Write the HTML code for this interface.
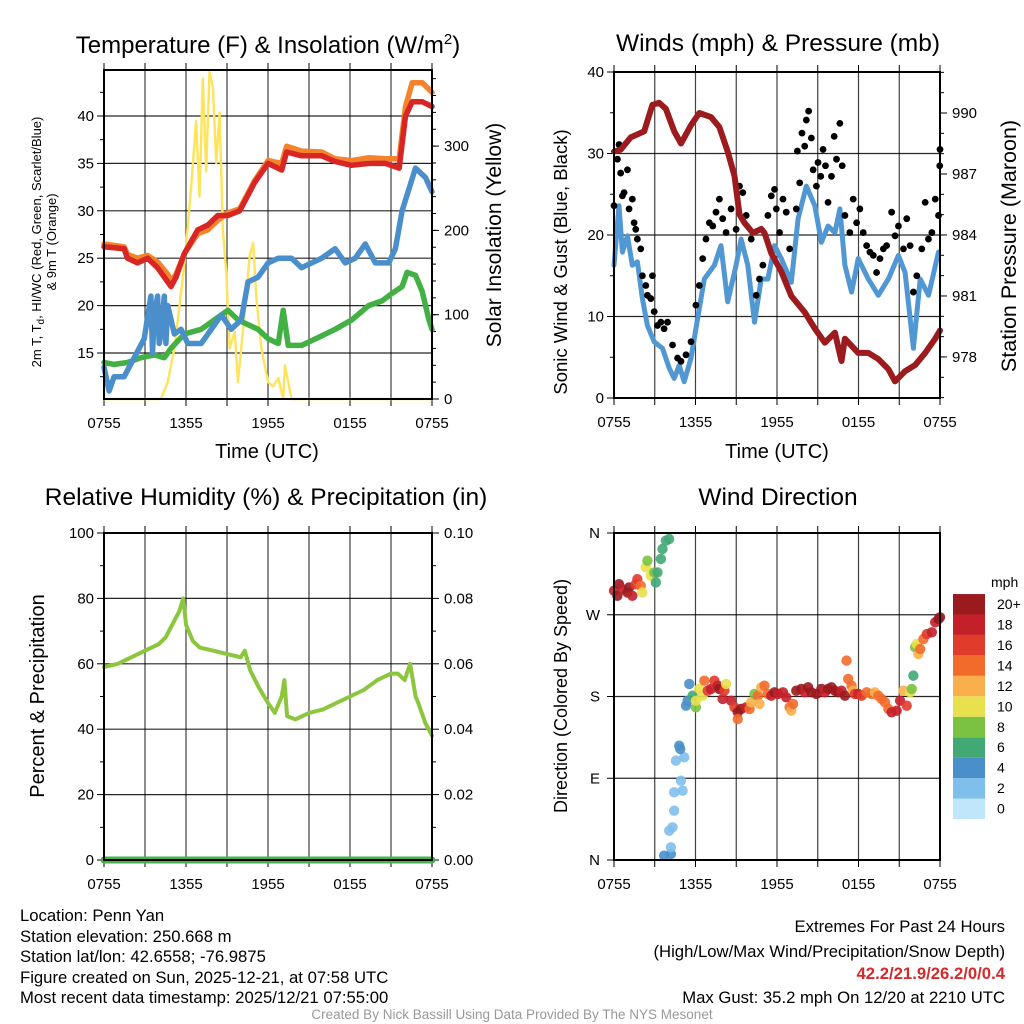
<!DOCTYPE html>
<html><head><meta charset="utf-8"><style>
html,body{margin:0;padding:0;background:#fff;}
svg{display:block;font-family:"Liberation Sans",Arial,sans-serif;}
</style></head><body>
<svg id="chart" width="1024" height="1024" viewBox="0 0 1024 1024" xmlns="http://www.w3.org/2000/svg">
<rect width="1024" height="1024" fill="#fff"/>
<g id="layer"></g>
<text x="268" y="53" font-size="24" text-anchor="middle">Temperature (F) &amp; Insolation (W/m<tspan dy="-9" font-size="15">2</tspan><tspan dy="9">)</tspan></text>
<text x="778" y="51" font-size="24.5" text-anchor="middle">Winds (mph) &amp; Pressure (mb)</text>
<text x="266" y="505" font-size="24.5" text-anchor="middle">Relative Humidity (%) &amp; Precipitation (in)</text>
<text x="778" y="505" font-size="24.5" text-anchor="middle">Wind Direction</text>
<text x="267" y="458" font-size="20" text-anchor="middle">Time (UTC)</text>
<text x="777" y="458" font-size="20" text-anchor="middle">Time (UTC)</text>
<text transform="translate(41,242) rotate(-90)" font-size="13" text-anchor="middle">2m T, T<tspan dy="3" font-size="10">d</tspan><tspan dy="-3">, HI/WC (Red, Green, Scarlet/Blue)</tspan></text>
<text transform="translate(56,242) rotate(-90)" font-size="13" text-anchor="middle">&amp; 9m T (Orange)</text>
<text transform="translate(501,235) rotate(-90)" font-size="21" text-anchor="middle">Solar Insolation (Yellow)</text>
<text transform="translate(567,262) rotate(-90)" font-size="18.5" text-anchor="middle">Sonic Wind &amp; Gust (Blue, Black)</text>
<text transform="translate(1016,246) rotate(-90)" font-size="21.5" text-anchor="middle">Station Pressure (Maroon)</text>
<text transform="translate(44,696) rotate(-90)" font-size="20" text-anchor="middle">Percent &amp; Precipitation</text>
<text transform="translate(567,696) rotate(-90)" font-size="18" text-anchor="middle">Direction (Colored By Speed)</text>
<text x="991" y="587" font-size="14">mph</text>
<g font-size="16.7">
<text x="20" y="921">Location: Penn Yan</text>
<text x="20" y="942">Station elevation: 250.668 m</text>
<text x="20" y="962">Station lat/lon: 42.6558; -76.9875</text>
<text x="20" y="983">Figure created on Sun, 2025-12-21, at 07:58 UTC</text>
<text x="20" y="1003">Most recent data timestamp: 2025/12/21 07:55:00</text>
</g>
<g font-size="16.7" text-anchor="end">
<text x="1005" y="932">Extremes For Past 24 Hours</text>
<text x="1005" y="957">(High/Low/Max Wind/Precipitation/Snow Depth)</text>
<text x="1005" y="979" fill="#d42a2a" font-weight="bold">42.2/21.9/26.2/0/0.4</text>
<text x="1005" y="1003">Max Gust: 35.2 mph On 12/20 at 2210 UTC</text>
</g>
<text x="512" y="1019" font-size="13.5" fill="#999" text-anchor="middle">Created By Nick Bassill Using Data Provided By The NYS Mesonet</text>
</svg>
<script>
// ---------- data ----------
const xTickLabels = ["0755","1355","1955","0155","0755"];
const xTickHours = [0,6,12,18,24];
const tempTicks = [15,20,25,30,35,40];
const insolTicks = [0,100,200,300];
const windTicks = [0,10,20,30,40];
const presTicks = [978,981,984,987,990];
const rhTicks = [0,20,40,60,80,100];
const precipTicks = ["0.00","0.02","0.04","0.06","0.08","0.10"];
const dirTicks = ["N","E","S","W","N"];
const dirTickDeg = [0,90,180,270,360];
const speedBins = ["0","2","4","6","8","10","12","14","16","18","20+"];

const redT = [0,1.47,1.72,2.45,3.19,3.92,4.66,4.9,5.27,5.88,6.86,7.6,8.33,9.07,9.93,11.03,12.0,13.0,13.36,14.46,15.93,16.9,18.1,19.4,20.6,21.6,22.06,22.55,23.3,24];
const redV = [26.2,26,25,24.5,25,24,22.5,22,23,25.5,28,28.5,29.5,29.5,30,33,35,34.3,36.2,35.8,35.8,35.2,34.8,35,35,34.5,40,41.5,41.5,41];
const orangeV = [26.5,26.2,25.4,25,25.3,24.6,23.3,22.6,23.3,25.5,27.6,28,29,29.8,30.2,33.2,35.3,35,36.8,36.3,36.2,35.5,35.3,35.6,35.5,35.5,41,43.5,43.5,42.5];
const blueT = [0,0.37,0.74,1.47,2.21,2.94,3.43,3.55,3.68,3.92,4.04,4.17,4.41,4.53,4.66,5.15,5.64,6.13,7.11,8.09,8.58,9.31,10.05,10.54,11.27,12.01,12.75,13.73,14.46,15.2,15.93,16.91,17.65,18.38,19.12,19.85,20.83,21.32,21.81,22.79,23.53,24];
const blueV = [13.5,11,12.5,12.5,14.5,16.5,21,15,19,21,16,17,21,16,20,17,17.5,16,16,18,19,17.5,18.5,22.5,23,24.5,25,25,24,24.5,25,26,24.5,25,26.5,24.5,24.5,26,30,34.5,33.5,32];
const greenT = [0,0.74,1.72,2.7,3.68,4.41,4.9,5.88,7.11,8.09,9.07,9.8,10.54,11.27,12.01,12.75,13.11,13.48,14.46,15.93,16.91,18.14,19.36,20.34,21.08,21.81,22.18,22.79,23.28,23.77,24];
const greenV = [14,13.8,14,14.5,14.8,14.5,15.5,17,17.5,18.5,19.5,18.5,18,17.5,16.5,16,19.5,15.8,15.8,16.8,17.5,18.5,20,20.5,21.3,22,23.5,23.2,21.5,18.5,17.5];
const solarT = [0,4.17,4.66,5.15,5.88,6.37,6.74,6.99,7.23,7.48,7.72,7.97,8.21,8.46,8.7,8.95,9.19,9.56,9.8,10.29,10.66,10.91,11.15,11.52,12.01,12.38,12.75,13.11,13.24,13.73,24];
const solarV = [0,0,20,60,160,250,330,240,380,270,388,370,280,340,200,150,60,80,20,100,170,185,120,60,20,15,25,0,40,0,0];

const windT = [0,0.37,0.62,0.99,1.35,1.72,2.09,2.46,2.96,3.57,4.06,4.43,4.8,5.17,5.67,6.16,6.65,7.39,7.88,8.37,8.99,9.36,9.85,10.34,10.84,11.33,11.82,12.32,13.05,13.55,14.16,14.78,15.27,15.76,16.26,16.63,17.0,17.49,17.98,18.72,19.46,20.2,20.94,21.43,22.04,22.54,23.15,23.89];
const windV = [16.3,23.6,17.9,19.9,16.3,16.7,12.2,8.9,6.9,6.1,3.7,2.4,4.0,2.0,4.9,9.8,14.6,16.3,18.7,11.8,16.3,19.5,16.3,9.3,14.6,14.6,18.7,17.1,14.2,22.0,26.0,23.6,19.1,21.1,20.3,23.2,16.3,13.0,17.1,14.6,12.6,14.6,17.5,15.4,6.1,14.6,12.6,17.9];
const gustT = [0,0.25,0.37,0.49,0.62,0.74,0.99,1.11,1.35,1.48,1.6,1.72,1.97,2.09,2.34,2.46,2.71,2.83,2.96,3.2,3.45,3.69,3.94,4.31,4.68,4.93,5.3,5.67,6.03,6.28,6.53,6.77,7.02,7.27,7.51,7.76,8.0,8.25,8.62,8.99,9.24,9.48,9.73,10.1,10.47,10.71,10.96,11.33,11.58,11.82,11.95,12.19,12.44,12.68,12.93,13.42,13.5,13.67,13.84,14.04,14.16,14.33,14.53,14.66,14.9,15.02,15.22,15.39,15.57,15.76,16.01,16.21,16.38,16.63,16.8,17.0,17.36,17.61,17.86,18.1,18.35,18.6,18.84,19.09,19.33,19.58,19.83,20.07,20.44,20.69,20.94,21.31,21.55,21.8,22.04,22.29,22.66,22.91,23.15,23.4,23.65,23.89,24.0,23.98];
const gustV = [23.6,29.3,31.1,27.6,24.8,25.2,28.0,23.2,24.4,21.5,20.7,19.5,18.3,15.0,13.8,12.6,12.2,15.0,10.6,8.9,9.3,8.5,9.3,6.5,4.9,4.5,5.3,6.9,11.4,13.8,17.1,19.5,21.5,21.1,22.8,24.4,22.0,20.3,23.2,20.7,26.0,25.2,22.4,19.5,12.6,14.6,16.3,22.4,24.8,25.6,23.2,20.3,24.4,22.8,18.3,23.2,30.3,26.4,32.5,30.9,34.1,35.2,31.9,28.0,26.0,28.9,27.2,30.5,28.5,24.0,27.2,32.1,29.3,33.7,28.5,22.4,20.3,24.4,21.5,23.2,20.3,18.7,17.9,17.5,15.4,17.1,18.3,18.7,22.8,19.9,21.1,18.3,22.0,18.7,13.0,15.0,18.3,24.0,19.5,20.3,24.4,22.4,30.5,28.5];
const presT = [0,0.49,1.23,2.22,2.83,3.33,3.82,4.43,4.93,5.67,6.28,7.14,7.76,8.37,8.87,9.24,9.61,10.22,10.84,11.08,11.58,12.32,13.05,14.04,14.78,15.52,16.26,16.75,17.0,17.98,18.72,19.46,20.2,20.69,21.43,22.17,22.91,23.65,24];
const presV = [988.1,988.2,988.8,989.1,990.4,990.5,990.2,989.1,988.5,989.4,990.0,989.8,989.3,988.1,986.9,985.0,984.6,984.1,984.3,984.1,983.1,982.2,981.0,980.2,979.4,978.7,979.2,977.8,978.9,978.2,978.2,977.9,977.4,976.8,977.3,977.6,978.2,978.9,979.3];

const rhT = [0,1,2,3,4,4.5,5,5.5,5.8,6,6.5,7,8,9,10,10.3,10.7,11.3,12,12.5,13.0,13.2,13.4,14,15,16,17,18,19,20,21,21.5,22,22.4,22.8,23,23.5,24];
const rhV = [59,60,62,64,66,68,72,76,80,72,67,65,64,63,62,64,58,53,48,45,50,55,44,43,45,46,48,50,52,55,57,57,55,60,50,48,42,38];
const precipV = [0,0];

const dirT = [0,0.25,0.37,0.62,0.99,1.11,1.35,1.6,1.72,1.97,2.09,2.34,2.46,2.71,2.96,3.08,3.2,3.45,3.57,3.82,4.06,3.69,4.19,4.19,4.31,4.06,4.43,4.43,5.05,4.93,4.56,5.17,4.8,4.88,5.3,5.42,5.54,5.79,6.03,6.03,6.28,6.53,6.65,6.9,7.14,7.39,7.64,7.76,8.0,8.13,8.25,8.62,8.87,9.11,9.11,9.36,9.73,9.98,10.1,10.34,10.59,10.71,10.84,11.08,11.33,11.58,11.82,12.07,12.44,12.68,12.93,13.05,13.18,13.42,13.79,14.04,14.29,14.53,14.9,15.27,15.52,15.76,16.01,16.26,16.5,16.75,17.0,17.12,17.24,17.49,17.61,17.73,17.98,18.23,18.6,18.97,19.21,19.46,19.7,19.95,20.2,20.44,20.81,21.06,21.31,21.55,21.8,21.92,22.04,22.17,22.29,22.41,22.54,22.78,23.03,23.4,23.65,23.89,24];
const dirV = [296.5,290.9,303.7,298.2,294.5,300,290.9,303.7,309.2,301.9,294.5,322.2,329.5,312.9,316.6,305.6,316.6,331.4,342.4,351.5,353.4,4.8,6.6,13.9,36,32.3,54.3,74.5,76.3,87.3,109.4,113,125.9,122.2,169.9,175.4,193.8,180.9,168.1,175.4,188.3,180.9,197.4,186.4,188.3,197.4,191.9,188.3,177.3,186.4,193.8,175.4,168.1,162.6,155.2,166.3,168.1,166.3,173.6,182.8,180.9,171.8,190.1,191.9,182.8,180.9,184.6,182.8,184.6,179.1,168.1,164.4,171.8,186.4,188.3,184.6,190.1,184.6,182.8,188.3,184.6,188.3,190.1,186.4,184.6,186.4,180.9,219.5,199.3,191.9,186.4,182.8,182.8,180.9,184.6,182.8,184.6,180.9,177.3,173.6,166.3,162.6,164.4,175.4,186.4,169.9,184.6,188.3,203,234.1,237.8,226.8,232.3,243.3,248.8,250.7,261.7,265.3,267.2];
const dirSpd = [18,20,20,18,20,20,18,16,16,14,10,10,8,10,8,6,6,6,6,6,6,4,4,2,2,2,2,2,2,2,2,2,4,4,4,4,4,6,8,10,10,10,14,16,18,16,18,20,18,16,10,18,16,20,14,20,18,14,12,8,14,12,12,14,14,18,20,18,18,18,14,12,14,20,20,18,20,20,20,20,18,20,20,20,20,18,20,14,14,14,12,16,18,16,14,14,12,14,14,14,14,18,18,18,12,16,10,8,6,8,10,12,14,14,16,18,18,20,20];

const binColors = ["#bfe6fb","#7fbfeb","#4a8fc9","#42a874","#7bc243","#e8e04d","#f9b04c","#f26b2b","#e03b2b","#c4202a","#9a1a1e"];

// ---------- helpers ----------
const NS="http://www.w3.org/2000/svg";
const layer=document.getElementById('layer');
function mk(tag,attrs,parent){const e=document.createElementNS(NS,tag);for(const k in attrs)e.setAttribute(k,attrs[k]);(parent||layer).appendChild(e);return e;}
function panel(x0,x1,y0,y1){return {x0,x1,y0,y1,x:t=>x0+(x1-x0)*t/24};}
const P1=panel(104,432,70,399), P2=panel(614,940,72,398), P3=panel(104,432,533,860), P4=panel(614,940,533,860);
const yTemp=v=>116+(40-v)*9.48, ySol=w=>399-w*0.843;
const yWind=v=>398-v*8.15, yPres=p=>113+(990-p)*20.33;
const yRH=v=>860-v*3.27, yDir=d=>860-d*0.9083;

function pathFrom(P,ts,vs,yf){let d="";for(let i=0;i<ts.length;i++){d+=(i?"L":"M")+P.x(ts[i]).toFixed(1)+","+yf(vs[i]).toFixed(1);}return d;}

function frame(P,name){
  for(let h=3;h<24;h+=3){const x=P.x(h);
    const g=mk('line',{x1:x,x2:x,y1:P.y0,y2:P.y1,stroke:"#000","stroke-width":1.2,"stroke-opacity":0.75});
    
    }
  for(let h=0;h<=24;h+=3){const x=P.x(h);
    mk('line',{x1:x,x2:x,y1:P.y0-7,y2:P.y0,stroke:"#000","stroke-width":1});
    mk('line',{x1:x,x2:x,y1:P.y1,y2:P.y1+7,stroke:"#000","stroke-width":1});}
  xTickHours.forEach((h,i)=>{const t=mk('text',{x:P.x(h),y:P.y1+29,"font-size":15,"text-anchor":"middle"});t.textContent=xTickLabels[i];
    
    });
}
function border(P,name){const r=mk('rect',{x:P.x0,y:P.y0,width:P.x1-P.x0,height:P.y1-P.y0,fill:"none",stroke:"#000","stroke-width":2});
  
  }
function hgrid(P,y,name){const l=mk('line',{x1:P.x0,x2:P.x1,y1:y,y2:y,stroke:"#000","stroke-width":1.2,"stroke-opacity":0.85});
  
  }
function ytick(x,y,len,side){mk('line',{x1:x,x2:x+(side<0?-len:len),y1:y,y2:y,stroke:"#000","stroke-width":1});}
function ylabel(x,y,txt,anchor,name){const t=mk('text',{x:x,y:y+5,"font-size":15,"text-anchor":anchor});t.textContent=txt;
  
  }
function series(P,ts,vs,yf,color,w,name){const p=mk('path',{d:pathFrom(P,ts,vs,yf),fill:"none",stroke:color,"stroke-width":w,"stroke-linejoin":"round","stroke-linecap":"round"});
  
  }

// ---------- Panel 1 ----------
frame(P1,'temp');
tempTicks.forEach(v=>{hgrid(P1,yTemp(v),'temp-hgrid');ytick(P1.x0,yTemp(v),7,-1);ylabel(P1.x0-10,yTemp(v),String(v),"end",'temp-y-tick-label');});
for(let v=12.5;v<45;v+=5){ytick(P1.x0,yTemp(v),4,-1);}
insolTicks.forEach(w=>{ytick(P1.x1,ySol(w),7,1);ylabel(P1.x1+12,ySol(w),String(w),"start",'insolation-tick-label');});
for(let w=20;w<390;w+=20){ytick(P1.x1,ySol(w),4,1);}
series(P1,solarT,solarV,ySol,"#fde45a",2.4,'solar-insolation-line');
series(P1,greenT,greenV,yTemp,"#42b043",5.5,'windchill-line');
series(P1,blueT,blueV,yTemp,"#4a8fcb",5.5,'dewpoint-line');
series(P1,redT,orangeV,yTemp,"#f5832c",5.5,'temp-9m-line');
series(P1,redT,redV,yTemp,"#d82626",5.5,'temp-2m-line');
border(P1,'temp');

// ---------- Panel 2 ----------
frame(P2,'wind');
[10,20,30].forEach(v=>hgrid(P2,yWind(v),'wind-hgrid'));
windTicks.forEach(v=>{ytick(P2.x0,yWind(v),7,-1);ylabel(P2.x0-10,yWind(v),String(v),"end",'wind-y-tick-label');});
[5,15,25,35].forEach(v=>ytick(P2.x0,yWind(v),4,-1));
presTicks.forEach(p=>{ytick(P2.x1,yPres(p),7,1);ylabel(P2.x1+12,yPres(p),String(p),"start",'pressure-tick-label');});
for(let p=976;p<=992;p++){const y=yPres(p);if(y>P2.y0&&y<P2.y1)ytick(P2.x1,y,4,1);}
series(P2,windT,windV,yWind,"#5097d3",5,'sonic-wind-line');
gustT.forEach((t,i)=>{const c=mk('circle',{cx:P2.x(t),cy:yWind(gustV[i]),r:3.4,fill:"#000"});
  
  });
series(P2,presT,presV,yPres,"#9b1b1e",6,'pressure-line');
border(P2,'wind');

// ---------- Panel 3 ----------
frame(P3,'rh');
[20,40,60,80].forEach(v=>hgrid(P3,yRH(v),'rh-hgrid'));
rhTicks.forEach((v,i)=>{ytick(P3.x0,yRH(v),7,-1);ylabel(P3.x0-10,yRH(v),String(v),"end",'rh-y-tick-label');
  ytick(P3.x1,yRH(v),7,1);ylabel(P3.x1+12,yRH(v),precipTicks[i],"start",'precip-tick-label');});
for(let v=10;v<100;v+=20){ytick(P3.x0,yRH(v),4,-1);ytick(P3.x1,yRH(v),4,1);}
series(P3,rhT,rhV,yRH,"#8cc63f",4,'rh-line');
series(P3,[0,24],precipV,v=>yRH(v*1000),"#4caf4c",7,'precip-line');
border(P3,'rh');

// ---------- Panel 4 ----------
frame(P4,'dir');
[90,180,270].forEach(d=>hgrid(P4,yDir(d),'dir-hgrid'));
dirTickDeg.forEach((d,i)=>{ytick(P4.x0,yDir(d),7,-1);ylabel(P4.x0-14,yDir(d),dirTicks[i],"end",'dir-y-tick-label');});
dirT.forEach((t,i)=>{const c=mk('circle',{cx:P4.x(t),cy:yDir(dirV[i]),r:5.2,fill:binColors[Math.min(10,Math.floor(dirSpd[i]/2))],"fill-opacity":0.9});
  
  });
border(P4,'dir');

// colorbar
speedBins.forEach((lab,i)=>{const y=819-(i+1)*20.45;
  const r=mk('rect',{x:953,y:y,width:32,height:20.45,fill:binColors[i]});
  
  
  const t=mk('text',{x:997,y:y+15,"font-size":14});t.textContent=lab;
  
  });
</script>
</body></html>
